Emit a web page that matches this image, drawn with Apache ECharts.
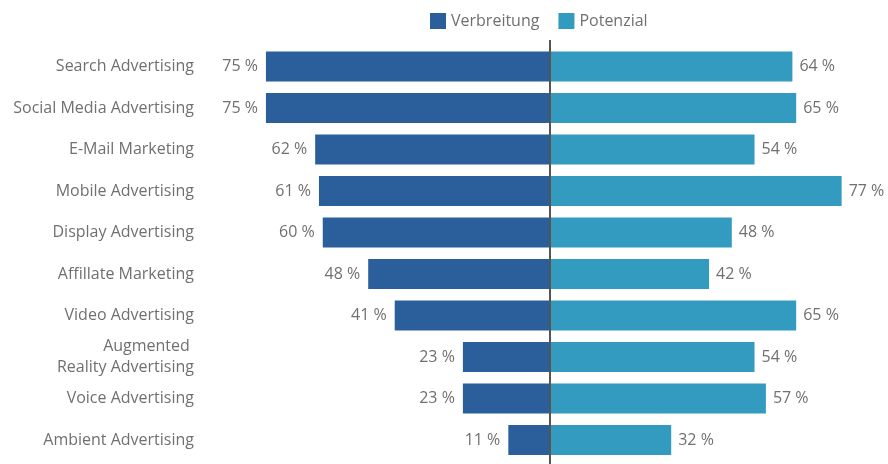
<!DOCTYPE html>
<html>
<head>
<meta charset="utf-8">
<script src="https://cdn.jsdelivr.net/npm/echarts@6/dist/echarts.min.js"></script>
<style>html,body{margin:0;padding:0;background:#fff}#c{width:888px;height:464px}</style>
</head>
<body>
<div id="c"></div>
<script>
const categories = ["Search Advertising","Social Media Advertising","E-Mail Marketing","Mobile Advertising","Display Advertising","Affillate Marketing","Video Advertising","Augmented \nReality Advertising","Voice Advertising","Ambient Advertising"];
const verbreitung = [75,75,62,61,60,48,41,23,23,11];
const potenzial = [64,65,54,77,48,42,65,54,57,32];
const seriesNames = ["Verbreitung","Potenzial"];

const FONT = "Open Sans";
const TXT = "#707070";
const FS = 16;
const chart = echarts.init(document.getElementById('c'), null, {renderer:'canvas'});
const option = {
  animation:false,
  backgroundColor:'#fff',
  textStyle:{fontFamily:FONT},
  legend:{
    left:425, top:8, itemWidth:16, itemHeight:16, itemGap:19,
    icon:'rect',
    textStyle:{fontFamily:FONT,fontSize:FS,color:TXT},
    data:seriesNames
  },
  grid:{left:247, width:606, top:45.75, height:415, containLabel:false},
  xAxis:{type:'value', min:-80, max:80, show:false},
  yAxis:{
    type:'category', data:categories, inverse:true,
    axisLine:{show:false}, axisTick:{show:false}, splitLine:{show:false},
    axisLabel:{margin:53, fontFamily:FONT, fontSize:FS, color:TXT, lineHeight:21, padding:[4,0,0,0]}
  },
  series:[
    {
      name:seriesNames[0], type:'bar', stack:'a',
      data:verbreitung.map(v=>-v),
      barWidth:30,
      itemStyle:{color:'#2a5f9b'},
      label:{show:true, position:'left', distance:8, fontFamily:FONT, fontSize:FS, color:TXT, padding:[4,0,0,0],
        formatter:p=>Math.abs(p.value)+' %'}
    },
    {
      name:seriesNames[1], type:'bar', stack:'a',
      data:potenzial,
      barWidth:30,
      itemStyle:{color:'#339bc0'},
      label:{show:true, position:'right', distance:7, fontFamily:FONT, fontSize:FS, color:TXT, padding:[4,0,0,0],
        formatter:p=>p.value+' %'}
    }
  ]
};
chart.setOption(option);
const x0 = chart.convertToPixel({xAxisIndex:0}, 0);
chart.setOption({graphic:[{type:'line', z:100, shape:{x1:x0, y1:40, x2:x0, y2:464}, style:{stroke:'#555', lineWidth:2}}]});
</script>
</body>
</html>
